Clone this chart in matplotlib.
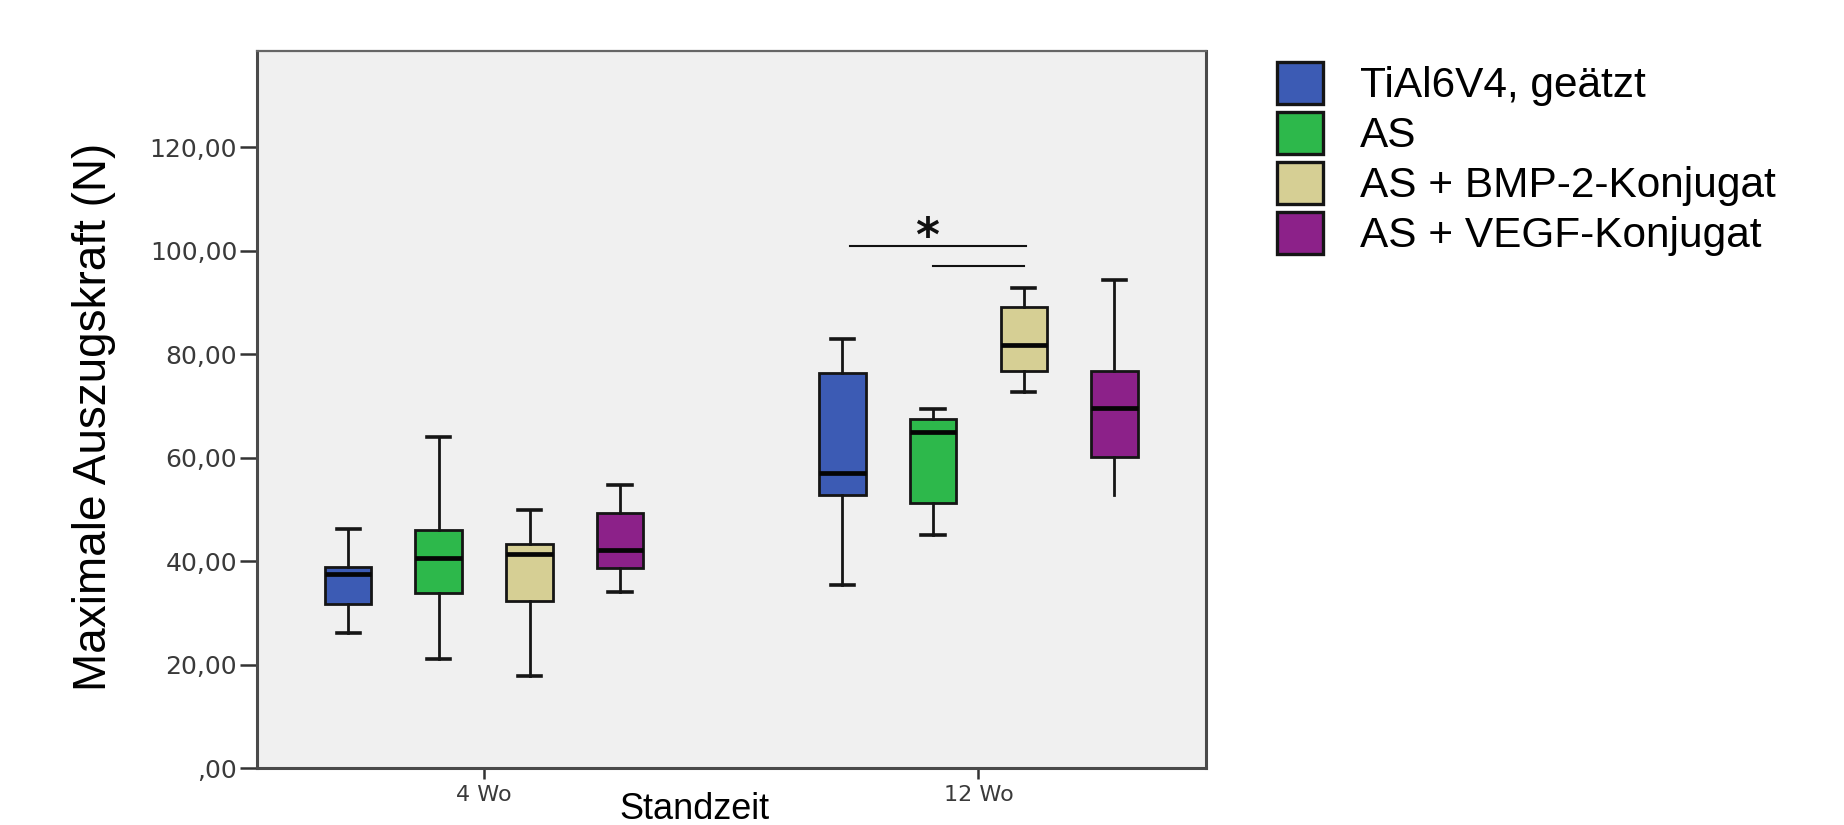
import matplotlib
matplotlib.use("Agg")
import matplotlib.pyplot as plt
from matplotlib.patches import Patch

# ---- data ----
groups = ["4 Wo", "12 Wo"]
series = ["TiAl6V4, geätzt", "AS", "AS + BMP-2-Konjugat", "AS + VEGF-Konjugat"]
colors = ["#3c5bb4", "#2db84b", "#d6cf94", "#8c2189"]

# per series: [whislo, q1, median, q3, whishi] for 4 Wo and 12 Wo
tial_4 = [26.1, 31.8, 37.5, 39.0, 46.2]
tial_12 = [35.4, 52.8, 57.0, 76.5, 82.9]
as_4 = [21.1, 33.9, 40.6, 46.0, 64.1]
as_12 = [45.1, 51.3, 65.0, 67.5, 69.4]
bmp_4 = [17.9, 32.3, 41.4, 43.3, 49.9]
bmp_12 = [72.7, 76.8, 81.8, 89.1, 92.9]
vegf_4 = [34.1, 38.8, 42.2, 49.3, 54.8]
vegf_12 = [52.8, 60.2, 69.7, 76.8, 94.4]

series_stats = [[tial_4, tial_12], [as_4, as_12], [bmp_4, bmp_12], [vegf_4, vegf_12]]

yticks = [0, 20, 40, 60, 80, 100, 120]
ytick_labels = [",00", "20,00", "40,00", "60,00", "80,00", "100,00", "120,00"]

sig_y = [101.0, 97.0]  # significance bars (N)

# ---- figure ----
fig = plt.figure(figsize=(18.44, 8.25), dpi=100)
ax = fig.add_axes([0.1392, 0.0687, 0.5147, 0.8698])
ax.set_facecolor("#f0f0f0")

offsets = [-0.275, -0.092, 0.092, 0.275]
width = 0.094

for si, (st, col, off) in enumerate(zip(series_stats, colors, offsets)):
    stats = []
    for gi, v in enumerate(st):
        stats.append(dict(whislo=v[0], q1=v[1], med=v[2], q3=v[3], whishi=v[4], fliers=[]))
    pos = [gi + off for gi in range(len(groups))]
    art = ax.bxp(stats, positions=pos, widths=width, patch_artist=True,
                 showfliers=False, manage_ticks=False,
                 boxprops=dict(facecolor=col, edgecolor="#151515", linewidth=2.0),
                 medianprops=dict(color="#050505", linewidth=3.4),
                 whiskerprops=dict(color="#151515", linewidth=2.0),
                 capprops=dict(color="#151515", linewidth=2.6),
                 capwidths=width * 0.5)
    if si == 3:
        # lower cap of the 12 Wo VEGF box is not visible in the reference
        art["caps"][2].set_visible(False)

# significance annotation
x_blue12 = 1 + offsets[0]
x_as12 = 1 + offsets[1]
x_bmp12 = 1 + offsets[2]
ax.plot([x_blue12 + 0.015, x_bmp12 + 0.005], [sig_y[0], sig_y[0]], color="#111111", lw=1.5)
ax.plot([x_as12, x_bmp12], [sig_y[1], sig_y[1]], color="#111111", lw=1.5)
ax.text((x_blue12 + x_bmp12) / 2 - 0.012, sig_y[0] - 1.0, "*", ha="center", va="baseline",
        fontsize=33, fontweight="bold", family="DejaVu Sans", color="#111111")

ax.set_xlim(-0.46, 1.46)
ax.set_ylim(0, 138.7)
ax.set_xticks(range(len(groups)))
ax.set_xticklabels(groups)
ax.set_yticks(yticks)
ax.set_yticklabels(ytick_labels)

for sp in ax.spines.values():
    sp.set_color("#4a4a4a")
    sp.set_linewidth(2.2)
ax.spines["top"].set_linewidth(1.6)
ax.spines["top"].set_color("#666666")

ax.tick_params(axis="y", direction="out", length=12, width=1.8, color="#333333",
               labelsize=18, labelcolor="#3a3a3a", pad=2)
ax.tick_params(axis="x", direction="out", length=8, width=1.8, color="#333333",
               labelsize=16, labelcolor="#3a3a3a", pad=4)
for lab in ax.get_xticklabels() + ax.get_yticklabels():
    lab.set_family("DejaVu Sans")

ax.set_ylabel("Maximale Auszugskraft (N)", family="Liberation Sans", fontsize=33,
              color="black", va="center")
ax.yaxis.set_label_coords(-0.171, 0.49)
ax.set_xlabel("Standzeit", family="Liberation Sans", fontsize=26, color="black", va="center")
ax.xaxis.set_label_coords(0.461, -0.058)

handles = [Patch(facecolor=c, edgecolor="#151515", linewidth=2.4) for c in colors]
fig.legend(handles, series, loc="upper left", bbox_to_anchor=(1277 / 1844, 1 - 62 / 825),
           frameon=False, prop=dict(family="Liberation Sans", size=30.5),
           handlelength=1.08, handleheight=1.15, labelspacing=0.13, handletextpad=0.88,
           borderpad=0, borderaxespad=0)

fig.savefig("out.png", dpi=100, facecolor="white")
